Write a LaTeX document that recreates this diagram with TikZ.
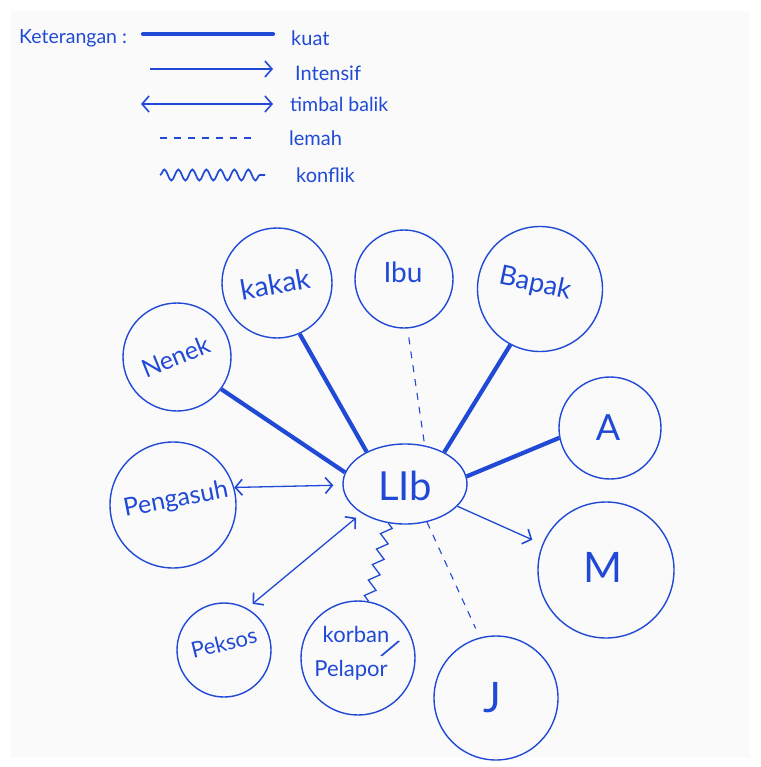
\documentclass[tikz,border=0pt]{standalone}
\usepackage{fontspec}
\setmainfont{Lato}
\usetikzlibrary{arrows.meta,decorations.pathmorphing,shapes.geometric}
\definecolor{ink}{RGB}{32,74,214}
\definecolor{paper}{RGB}{250,250,251}

\begin{document}
\begin{tikzpicture}[x=1pt,y=-1pt,
  fs/.style={font=\fontsize{#1}{#1}\selectfont},
  txt/.style={text=ink,inner sep=0pt},
  person/.style={circle,draw=ink,line width=1.4pt,inner sep=0pt,minimum size=#1},
  barb/.tip={Straight Barb[length=7pt,width=16pt,line width=1.6pt]},
  kuat/.style={draw=ink,line width=4.2pt,line cap=round},
  intensif/.style={draw=ink,line width=1.3pt,-barb},
  timbal/.style={draw=ink,line width=1.3pt,barb-barb},
  lemah/.style={draw=ink,line width=1.1pt,dash pattern=on 7pt off 7pt},
  konflik/.style={draw=ink,line width=1.3pt,decorate,
    decoration={zigzag,segment length=16pt,amplitude=5pt}},
  wave/.style={draw=ink,line width=1.7pt,decorate,
    decoration={snake,segment length=14pt,amplitude=5.5pt}}]

\useasboundingbox (0,0) rectangle (760,767);
\fill[white] (0,0) rectangle (760,767);
\fill[paper] (11,11) rectangle (750,758);

% ---------- legend ----------
\node[txt,fs=19.5,anchor=west] (ket) at (19,38) {Keterangan :};

\coordinate (l1a) at (143,34);  \coordinate (l1b) at (273,34);
\coordinate (l2a) at (150,69);  \coordinate (l2b) at (273,69);
\coordinate (l3a) at (141,104); \coordinate (l3b) at (273,104);
\coordinate (l4a) at (160,138); \coordinate (l4b) at (255,138);
\coordinate (l5a) at (160,175); \coordinate (l5b) at (265,175);

\draw[kuat] (l1a) -- (l1b);
\draw[intensif] (l2a) -- (l2b);
\draw[timbal] (l3a) -- (l3b);
\draw[lemah] (l4a) -- (l4b);
\draw[wave] (l5a) -- (l5b);

\node[txt,fs=20,anchor=west] (t1) at (291,38) {kuat};
\node[txt,fs=20,anchor=west] (t2) at (295,73) {Intensif};
\node[txt,fs=19.5,anchor=west] (t3) at (290,104) {timbal balik};
\node[txt,fs=20,anchor=west] (t4) at (289,138) {lemah};
\node[txt,fs=20,anchor=west] (t5) at (296,175) {konflik};

% ---------- people ----------
\node[ellipse,draw=ink,line width=1.4pt,inner sep=0pt,
      minimum width=124pt,minimum height=80pt] (lib) at (405,484) {};
\node[person=110pt] (kakak)  at (277,283) {};
\node[person=98pt]  (ibu)    at (404,279) {};
\node[person=125pt] (bapak)  at (540,289) {};
\node[person=108pt] (nenek)  at (177,357) {};
\node[person=102pt] (a)      at (610,428) {};
\node[person=126pt] (peng)   at (173,505) {};
\node[person=136pt] (m)      at (606,570) {};
\node[person=94pt]  (peksos) at (224,650) {};
\node[person=114pt] (korban) at (358,658) {};
\node[person=124pt] (j)      at (496,698) {};

\node[txt,fs=40] (libT)   at (405,486) {LIb};
\node[txt,fs=28,rotate=10] (kakakT) at (275,284) {kakak};
\node[txt,fs=28] (ibuT)   at (403,272) {Ibu};
\node[txt,fs=27,rotate=-12] (bapakT) at (535,284) {Bapak};
\node[txt,fs=25,rotate=22] (nenekT) at (176,357) {Nenek};
\node[txt,fs=36] (aT)     at (608,428) {A};
\node[txt,fs=25,rotate=11] (pengT)  at (176,500) {Pengasuh};
\node[txt,fs=42] (mT)     at (603,567) {M};
\node[txt,fs=22,rotate=14] (peksosT) at (224,643) {Peksos};
\node[txt,fs=22] (korbanT) at (356,634) {korban};
\node[txt,fs=22] (pelaporT) at (351,670) {Pelapor};
\node[txt,fs=28,rotate=-28] (slashT) at (391,649) {/};
\node[txt,fs=42] (jT)     at (492,698) {J};

% ---------- relations ----------
\draw[kuat,line cap=butt] (nenek.-36) -- (lib.169);
\draw[kuat,line cap=butt] (kakak.-66) -- (lib.140);
\draw[kuat,line cap=butt] (bapak.-118) -- (lib.39);
\draw[kuat,line cap=butt] (a.-169) -- (lib.7);
\draw[lemah,shorten <=9pt] (ibu.-86) -- (lib.63);
\draw[lemah,shorten >=10pt] (lib.-60) -- (j.105);
\draw[timbal,shorten >=9pt] (peng.16) -- (lib.181);
\draw[intensif,shorten >=11pt] (lib.-23) -- (m.158);
\draw[timbal,shorten <=7pt,shorten >=7pt] (peksos.61) -- (lib.-146);
\draw[konflik] (lib.-113) -- (korban.80);
\end{tikzpicture}
\end{document}
